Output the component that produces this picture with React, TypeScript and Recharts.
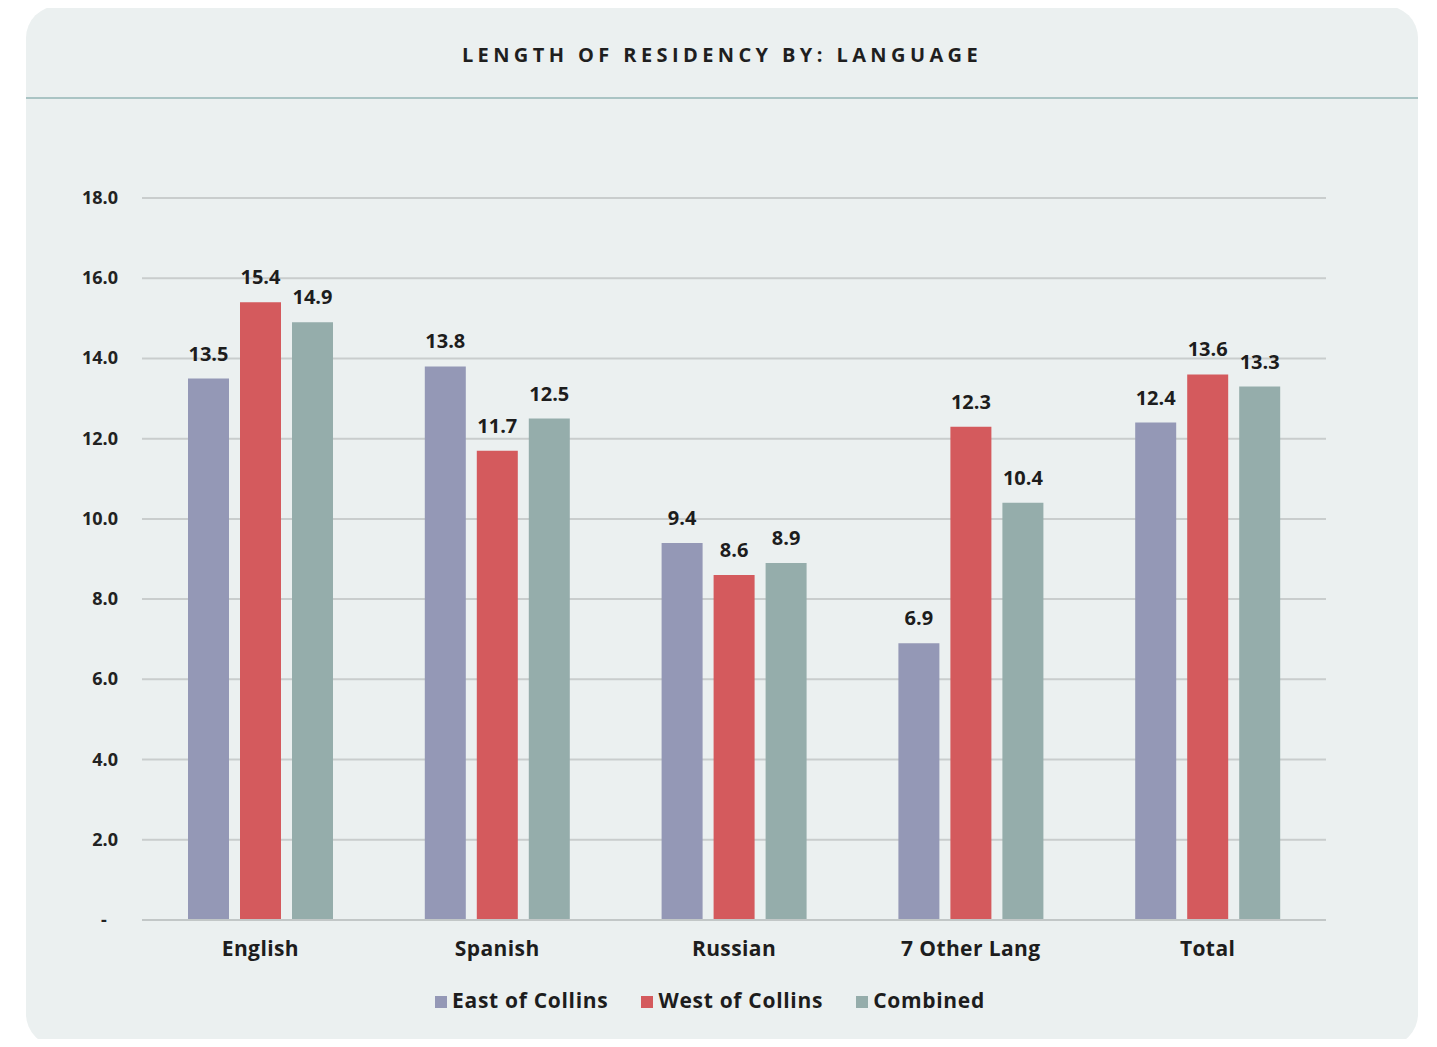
import { BarChart, Bar, XAxis, YAxis, CartesianGrid, Legend, LabelList } from 'recharts';

const languages = ['English', 'Spanish', 'Russian', '7 Other Lang', 'Total'];
const eastOfCollins = [13.5, 13.8, 9.4, 6.9, 12.4];
const westOfCollins = [15.4, 11.7, 8.6, 12.3, 13.6];
const combined = [14.9, 12.5, 8.9, 10.4, 13.3];
const yTicks = [0, 2, 4, 6, 8, 10, 12, 14, 16, 18];

const SERIES = [
  { key: 'east', name: 'East of Collins', color: '#9498b6' },
  { key: 'west', name: 'West of Collins', color: '#d45a5d' },
  { key: 'combined', name: 'Combined', color: '#95adab' },
];

const data = languages.map((name, i) => ({
  name,
  east: eastOfCollins[i],
  west: westOfCollins[i],
  combined: combined[i],
}));

const FONT = '"Open Sans", "Noto Sans", sans-serif';

function YTick({ x, y, payload }: any) {
  const zero = payload.value === 0;
  return (
    <text
      x={zero ? x - 30 : x - 16}
      y={y}
      dy={6}
      textAnchor={zero ? 'middle' : 'end'}
      fontFamily={FONT}
      fontWeight={700}
      fontSize={18}
      fill="#222"
    >
      {zero ? '-' : payload.value.toFixed(1)}
    </text>
  );
}

function XTick({ x, y, payload }: any) {
  return (
    <text
      x={x}
      y={y}
      dy={28}
      textAnchor="middle"
      fontFamily={FONT}
      fontWeight={700}
      fontSize={21}
      letterSpacing={0.4}
      fill="#1d1d1d"
    >
      {payload.value}
    </text>
  );
}

function LegendContent() {
  return (
    <div style={{ display: 'flex', justifyContent: 'center', gap: 33, paddingLeft: 12, paddingTop: 16 }}>
      {SERIES.map((s) => (
        <div key={s.key} style={{ display: 'flex', alignItems: 'center', gap: 5 }}>
          <span style={{ width: 12, height: 12, background: s.color, display: 'inline-block', marginTop: 4 }} />
          <span style={{ fontFamily: FONT, fontWeight: 700, fontSize: 21, letterSpacing: 0.7, color: '#1d1d1d' }}>
            {s.name}
          </span>
        </div>
      ))}
    </div>
  );
}

export default function App() {
  return (
    <div style={{ position: 'relative', width: 1437, height: 1047, margin: -8, background: '#fff', overflow: 'hidden' }}>
      <div
        style={{
          position: 'absolute',
          left: 26,
          top: 6,
          width: 1392,
          height: 1040,
          borderRadius: 32,
          background: '#ebf0f0',
        }}
      >
        <div
          style={{
            height: 93,
            borderBottom: '2px solid #aac4c4',
            display: 'flex',
            alignItems: 'center',
            justifyContent: 'center',
            fontFamily: FONT,
            fontWeight: 700,
            fontSize: 20,
            letterSpacing: 4.4,
            color: '#1f1f1f',
            paddingTop: 6,
            boxSizing: 'border-box',
          }}
        >
          LENGTH OF RESIDENCY BY: LANGUAGE
        </div>
        <BarChart
          width={1392}
          height={947}
          data={data}
          margin={{ top: 99, right: 92, bottom: 20, left: 56 }}
          barGap={11}
          barSize={41}
        >
          <CartesianGrid vertical={false} stroke="#c9cdcd" strokeWidth={2} />
          <XAxis
            dataKey="name"
            axisLine={{ stroke: '#c2c7c7', strokeWidth: 2 }}
            tickLine={false}
            tick={<XTick />}
            height={50}
            interval={0}
          />
          <YAxis
            domain={[0, 18]}
            ticks={yTicks}
            axisLine={false}
            tickLine={false}
            tick={<YTick />}
            width={60}
          />
          <Legend verticalAlign="bottom" height={56} content={<LegendContent />} />
          {SERIES.map((s) => (
            <Bar key={s.key} dataKey={s.key} name={s.name} fill={s.color} isAnimationActive={false}>
              <LabelList
                dataKey={s.key}
                position="top"
                offset={18}
                formatter={(v: any) => Number(v).toFixed(1)}
                style={{ fontFamily: FONT, fontWeight: 700, fontSize: 20, fill: '#1d1d1d' }}
              />
            </Bar>
          ))}
        </BarChart>
      </div>
    </div>
  );
}
